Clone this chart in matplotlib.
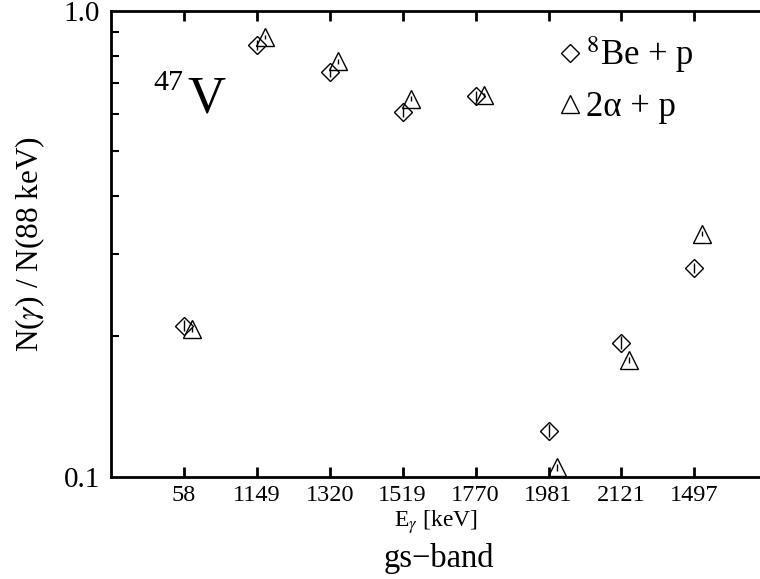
import numpy as np
import matplotlib.pyplot as plt
from matplotlib.lines import Line2D
from matplotlib.ticker import NullFormatter

plt.rcParams['font.family'] = ['Liberation Serif', 'DejaVu Serif']
plt.rcParams['mathtext.fontset'] = 'stix'

# gamma lines of the gs-band, in plotting order
lines = ['58', '1149', '1320', '1519', '1770', '1981', '2121', '1497']

# intensities relative to the 88 keV line
be8_p = [0.211, 0.845, 0.74, 0.607, 0.657, 0.1255, 0.194, 0.281]
be8_p_err = [0.006, 0.02, 0.018, 0.015, 0.016, 0.004, 0.006, 0.007]
aa_p = [0.207, 0.88, 0.78, 0.648, 0.66, 0.1046, 0.178, 0.332]
aa_p_err = [0.003, 0.01, 0.01, 0.008, 0.008, 0.002, 0.003, 0.004]

x = np.arange(1, len(lines) + 1)

fig = plt.figure(figsize=(7.6, 5.79), dpi=100)
ax = fig.add_axes([0.146, 0.177, 0.854, 0.804])

ax.errorbar(x, be8_p, yerr=be8_p_err, fmt='D', ms=9.5, mfc='none', mec='k',
            mew=1.0, ecolor='k', elinewidth=1.0, capsize=0)
ax.errorbar(x + 0.11, aa_p, yerr=aa_p_err, fmt='^', ms=13.5, mfc='none',
            mec='k', mew=1.0, ecolor='k', elinewidth=1.0, capsize=0)

ax.set_yscale('log')
ax.set_ylim(0.1, 1.0)
ax.set_xlim(0.0, 8.9)

ax.set_yticks([0.1, 1.0])
ax.set_yticklabels(['0.1', '1.0'])
ax.set_yticks([0.2, 0.3, 0.4, 0.5, 0.6, 0.7, 0.8, 0.9], minor=True)
ax.yaxis.set_minor_formatter(NullFormatter())
ax.set_xticks(x)
ax.set_xticklabels(lines)

ax.tick_params(axis='x', which='both', direction='in', top=True,
               length=7, width=2, labelsize=17.5, pad=6)
ax.tick_params(axis='y', which='both', direction='in', length=6, width=1.5,
               labelsize=21, pad=8)
ax.tick_params(axis='y', which='major', length=0)

for side in ['left', 'bottom', 'top']:
    ax.spines[side].set_linewidth(2)
ax.spines['right'].set_visible(False)

ax.set_ylabel(r'N($\gamma$) / N(88 keV)', fontsize=22.5, labelpad=12)
ax.set_xlabel(r'E$_\gamma$ [keV]', fontsize=17, labelpad=2)

# nucleus label
ax.text(0.065, 0.830, '47', transform=ax.transAxes, fontsize=21.5,
        ha='left', va='baseline')
ax.text(0.118, 0.782, 'V', transform=ax.transAxes, fontsize=38,
        ha='left', va='baseline')

# legend with bare symbols (no error bars)
handles = [
    Line2D([], [], ls='none', marker='D', ms=9, mfc='none', mec='k', mew=1.0),
    Line2D([], [], ls='none', marker='^', ms=13, mfc='none', mec='k', mew=1.0),
]
labels = [r'$^{8}$Be + p', '2\u03b1 + p']
ax.legend(handles, labels, loc='upper left', bbox_to_anchor=(0.689, 0.95),
          frameon=False, fontsize=25, handlelength=0.7, handletextpad=0.1,
          labelspacing=0.45, borderpad=0, borderaxespad=0)

fig.text(0.578, 0.021, 'gs\u2212band', fontsize=23.5, ha='center',
         va='baseline')

fig.savefig('out.png', dpi=100)
